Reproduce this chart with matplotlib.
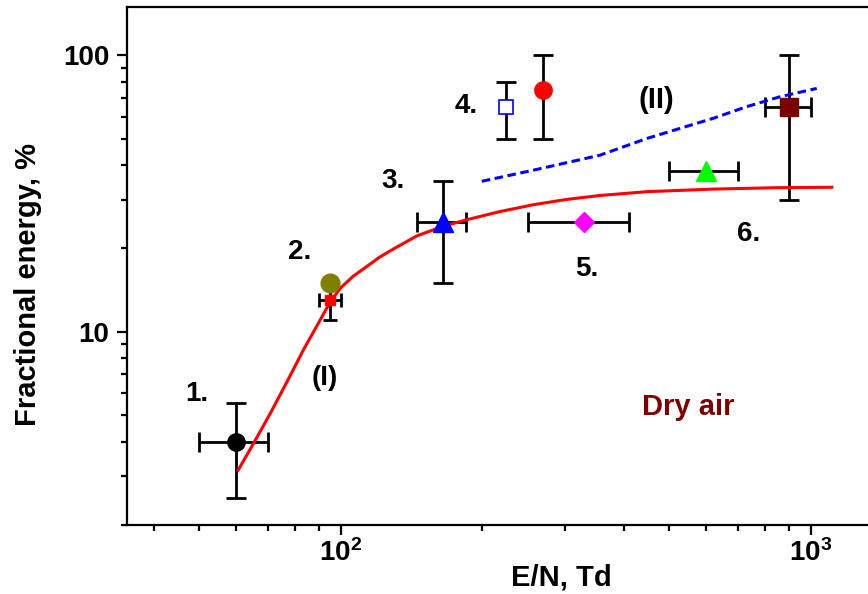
import numpy as np
import matplotlib
matplotlib.use("Agg")
import matplotlib.pyplot as plt
from matplotlib.ticker import FixedLocator, FixedFormatter, NullFormatter

plt.rcParams['font.family'] = ['Liberation Sans', 'DejaVu Sans']
plt.rcParams['font.weight'] = 'bold'
plt.rcParams['axes.labelweight'] = 'bold'
plt.rcParams['mathtext.fontset'] = 'custom'
plt.rcParams['mathtext.rm'] = 'Liberation Sans:bold'
plt.rcParams['mathtext.bf'] = 'Liberation Sans:bold'
plt.rcParams['mathtext.default'] = 'bf'

# measured points (E/N in Td, fractional energy in %)
pt_x = [60, 95, 95, 165, 225, 270, 330, 600, 900]
pt_y = [4, 15, 13, 25, 65, 75, 25, 38, 65]
pt_xerr = [10, 0, 5, 20, 0, 0, 80, 100, 100]
pt_yerr = [1.5, 0, 2, 10, 15, 25, 0, 0, 35]

# curve (I): solid red
curve1_x = [60.5, 65.2, 70.8, 76.8, 83.2, 90.4, 95.2, 100, 106, 113.6, 121, 129.4, 145.2,
            164.4, 185.4, 218.3, 257.2, 302.8, 356.5, 448, 620, 859, 1109]
curve1_y = [3.15, 3.93, 5.05, 6.56, 8.55, 11.0, 12.9, 14.4, 15.8, 17.2, 18.6, 19.9, 22.2,
            24.0, 25.4, 27.2, 28.8, 30.1, 31.1, 32.1, 32.8, 33.2, 33.3]

# curve (II): dashed blue
curve2_x = [199.6, 257, 356, 448, 527, 621, 731, 860, 1030]
curve2_y = [35.0, 38.4, 43.5, 50.0, 54.4, 59.2, 65.2, 70.8, 75.9]

point_labels = ['1.', '2.', '3.', '4.', '5.', '6.']

styles = [
    dict(marker='o', color='black', ms=12.5, mec='black'),
    dict(marker='o', color='#808000', ms=13.5, mec='#808000'),
    dict(marker='s', color='#ff0000', ms=7.5, mec='#ff0000'),
    dict(marker='^', color='#0000ff', ms=14.5, mec='#0000ff'),
    dict(marker='s', color='white', ms=10.5, mec='#0000ff', mew=1.2),
    dict(marker='o', color='#ff0000', ms=12.5, mec='#ff0000'),
    dict(marker='D', color='#ff00ff', ms=10, mec='#ff00ff'),
    dict(marker='^', color='#00ff00', ms=14.5, mec='#00ff00'),
    dict(marker='s', color='#7a0000', ms=12.5, mec='#7a0000'),
]
caps = [7.5, 7.5, 5, 7.5, 7.5, 7.5, 7.5, 7.5, 7.5]

fig = plt.figure(figsize=(8.68, 5.94), dpi=100)
ax = fig.add_axes([126.7 / 868, 69.3 / 594, 741.3 / 868, 518 / 594])
ax.set_xscale('log')
ax.set_yscale('log')

ax.plot(curve1_x, curve1_y, color='#ff0000', lw=2.2, zorder=3)
ax.plot(curve2_x, curve2_y, color='#0000ff', lw=2.2, dashes=(2.8, 1.5), zorder=3)

for i in range(len(pt_x)):
    st = styles[i]
    xe = pt_xerr[i] if pt_xerr[i] > 0 else None
    ye = pt_yerr[i] if pt_yerr[i] > 0 else None
    if xe is not None or ye is not None:
        ax.errorbar(pt_x[i], pt_y[i], xerr=xe, yerr=ye, fmt='none', ecolor='black',
                    elinewidth=2, capsize=caps[i], capthick=2, zorder=2)
    ax.plot(pt_x[i], pt_y[i], ls='none', marker=st['marker'], mfc=st['color'],
            mec=st['mec'], ms=st['ms'], mew=st.get('mew', 1), zorder=4)

# number labels next to the points
label_pos = [(49.4, 5.93), (81.9, 19.4), (129.2, 35.1), (185.3, 65.5), (334, 16.9), (736, 22.5)]
for lab, (lx, ly) in zip(point_labels, label_pos):
    ax.text(lx, ly, lab, fontsize=20, fontweight='bold', ha='center', va='center')

ax.text(92.6, 6.82, '(I)', fontsize=20, fontweight='bold', ha='center', va='center')
ax.text(470, 68.9, '(II)', fontsize=21, fontweight='bold', ha='center', va='center')
ax.text(550, 5.32, 'Dry air', fontsize=21, fontweight='bold', color='#800000',
        ha='center', va='center')

ax.set_xlim(35.05, 1324)
ax.set_ylim(2, 150)

ax.xaxis.set_major_locator(FixedLocator([100, 1000]))
ax.xaxis.set_major_formatter(FixedFormatter([r'$10^{2}$', r'$10^{3}$']))
ax.xaxis.set_minor_locator(FixedLocator([40, 50, 60, 70, 80, 90, 200, 300, 400, 500,
                                         600, 700, 800, 900]))
ax.xaxis.set_minor_formatter(NullFormatter())
ax.yaxis.set_major_locator(FixedLocator([10, 100]))
ax.yaxis.set_major_formatter(FixedFormatter(['10', '100']))
ax.yaxis.set_minor_locator(FixedLocator([2, 3, 4, 5, 6, 7, 8, 9, 20, 30, 40, 50, 60,
                                         70, 80, 90]))
ax.yaxis.set_minor_formatter(NullFormatter())

ax.tick_params(which='both', direction='out', width=1.6, top=False, right=False,
               labelsize=20)
ax.tick_params(which='major', length=7.5)
ax.tick_params(which='minor', length=4)
ax.tick_params(axis='x', pad=3)
ax.tick_params(axis='y', pad=5)

for side in ['left', 'bottom', 'top']:
    ax.spines[side].set_linewidth(1.6)
ax.spines['right'].set_visible(False)

ax.set_xlabel('E/N, Td', fontsize=21)
ax.set_ylabel('Fractional energy, %', fontsize=21)
ax.xaxis.set_label_coords((561.5 - 126.7) / 741.3, (524.7 - 564) / 518)
ax.yaxis.set_label_coords((42 - 126.7) / 741.3, (524.7 - 285) / 518)

fig.savefig('out.png', dpi=100)
